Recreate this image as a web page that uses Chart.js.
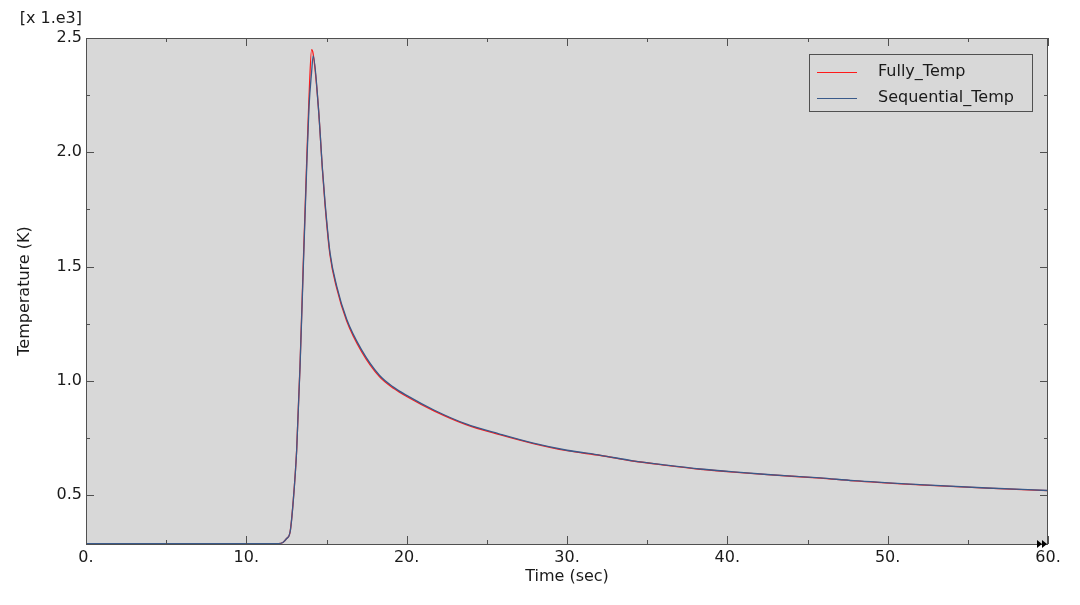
<!DOCTYPE html>
<html>
<head>
<meta charset="utf-8">
<script src="https://cdn.jsdelivr.net/npm/chart.js@4.4.0/dist/chart.umd.min.js"></script>
<style>
  html, body { margin: 0; padding: 0; background: #ffffff; }
  canvas { display: block; }
</style>
</head>
<body>
<canvas id="tempChart" width="1080" height="605"></canvas>
<script>
// time (sec) and temperatures in units of 1e3 K
const timeSec = [0, 6, 12.0, 12.3, 12.5, 12.73, 12.93, 13.14, 13.35, 13.55, 13.76, 13.91, 14.07, 14.17, 14.49, 14.75, 14.91, 15.22, 15.64, 16.26, 17.19, 18.3, 19.2, 20.0, 21.7, 23.7, 25.8, 27.9, 30.0, 32.1, 34.1, 36.2, 38.3, 40.4, 42.5, 45.8, 47.9, 52.0, 56.2, 60];
const fullyTemp = [0.288, 0.288, 0.289, 0.295, 0.31, 0.34, 0.48, 0.70, 1.07, 1.51, 1.95, 2.24, 2.449, 2.43, 2.20, 1.92, 1.77, 1.55, 1.405, 1.262, 1.128, 1.019, 0.967, 0.932, 0.869, 0.809, 0.765, 0.726, 0.695, 0.674, 0.650, 0.631, 0.614, 0.601, 0.590, 0.575, 0.563, 0.546, 0.531, 0.520];
const sequentialTemp = [0.288, 0.288, 0.289, 0.295, 0.31, 0.34, 0.478, 0.697, 1.063, 1.49, 1.925, 2.20, 2.35, 2.422, 2.20, 1.925, 1.78, 1.56, 1.414, 1.27, 1.136, 1.025, 0.972, 0.937, 0.873, 0.812, 0.768, 0.728, 0.697, 0.675, 0.651, 0.632, 0.615, 0.602, 0.591, 0.576, 0.564, 0.547, 0.532, 0.521];
const yMajorTicks = [0.5, 1.0, 1.5, 2.0, 2.5];
const yMinorTicks = [0.75, 1.25, 1.75, 2.25];
const xMajorTicks = [0, 10, 20, 30, 40, 50, 60];
const xMinorTicks = [5, 15, 25, 35, 45, 55];

const FONT = 'DejaVu Sans, Verdana, sans-serif';
const TEXT = '#1a1a1a';
const FRAME = '#505050';

function toPoints(ys) {
    return timeSec.map((t, i) => ({ x: t, y: ys[i] }));
}

const framePlugin = {
    id: 'frame',
    beforeDraw(chart) {
        const { ctx, chartArea: a } = chart;
        ctx.save();
        ctx.fillStyle = '#d8d8d8';
        ctx.fillRect(a.left, a.top, a.right - a.left, a.bottom - a.top);
        ctx.restore();
    },
    afterDraw(chart) {
        const { ctx, chartArea: a, scales } = chart;
        const xs = scales.x, ys = scales.y;
        ctx.save();
        ctx.strokeStyle = FRAME;
        ctx.lineWidth = 1;
        ctx.strokeRect(a.left + 0.5, a.top + 0.5, a.right - a.left - 1, a.bottom - a.top);

        // inward ticks on all four sides
        ctx.beginPath();
        const yTick = (v, len) => {
            const py = Math.round(ys.getPixelForValue(v)) + 0.5;
            ctx.moveTo(a.left, py); ctx.lineTo(a.left + len, py);
            ctx.moveTo(a.right, py); ctx.lineTo(a.right - len, py);
        };
        const xTick = (v, len) => {
            const px = Math.round(xs.getPixelForValue(v)) + 0.5;
            ctx.moveTo(px, a.bottom); ctx.lineTo(px, a.bottom - len);
            ctx.moveTo(px, a.top); ctx.lineTo(px, a.top + len);
        };
        yMajorTicks.forEach(v => yTick(v, 8));
        yMinorTicks.forEach(v => yTick(v, 4));
        xMajorTicks.forEach(v => xTick(v, 8));
        xMinorTicks.forEach(v => xTick(v, 4));
        ctx.stroke();

        // double arrow at the end of the x axis
        ctx.fillStyle = '#000000';
        const by = a.bottom;
        [a.right - 11, a.right - 6].forEach(x0 => {
            ctx.beginPath();
            ctx.moveTo(x0, by - 4);
            ctx.lineTo(x0 + 5, by);
            ctx.lineTo(x0, by + 4);
            ctx.closePath();
            ctx.fill();
        });

        // texts
        ctx.fillStyle = TEXT;
        ctx.font = '16px ' + FONT;
        ctx.textBaseline = 'middle';
        ctx.textAlign = 'right';
        ctx.fillText('[x 1.e3]', 82, 19);
        ctx.textAlign = 'center';
        ctx.fillText('Time (sec)', (a.left + a.right) / 2, 577);
        ctx.save();
        ctx.translate(25, 291);
        ctx.rotate(-Math.PI / 2);
        ctx.fillText('Temperature (K)', 0, 0);
        ctx.restore();

        // legend
        const lx = 809, ly = 54, lw = 223, lh = 57;
        ctx.fillStyle = '#d8d8d8';
        ctx.fillRect(lx, ly, lw, lh);
        ctx.strokeStyle = FRAME;
        ctx.strokeRect(lx + 0.5, ly + 0.5, lw, lh);
        ctx.textAlign = 'left';
        chart.data.datasets.forEach((ds, i) => {
            const yy = 72 + i * 26;
            ctx.strokeStyle = ds.borderColor;
            ctx.lineWidth = 1.2;
            ctx.beginPath();
            ctx.moveTo(817, yy + 0.5);
            ctx.lineTo(857, yy + 0.5);
            ctx.stroke();
            ctx.fillStyle = TEXT;
            ctx.fillText(ds.label, 878, yy);
        });
        ctx.restore();
    }
};

new Chart(document.getElementById('tempChart').getContext('2d'), {
    type: 'line',
    data: {
        datasets: [
            {
                label: 'Fully_Temp',
                data: toPoints(fullyTemp),
                borderColor: '#ff1a1a',
                borderWidth: 1.3,
                pointRadius: 0,
                fill: false,
                order: 1,
                cubicInterpolationMode: 'monotone'
            },
            {
                label: 'Sequential_Temp',
                data: toPoints(sequentialTemp),
                borderColor: '#3a5a8a',
                borderWidth: 1.3,
                pointRadius: 0,
                fill: false,
                order: 0,
                cubicInterpolationMode: 'monotone'
            }
        ]
    },
    options: {
        responsive: false,
        animation: false,
        layout: { padding: { top: 38, right: 32, left: 0, bottom: 0 } },
        plugins: {
            legend: { display: false },
            tooltip: { enabled: false }
        },
        scales: {
            x: {
                type: 'linear',
                min: 0,
                max: 60,
                afterFit: s => { s.height = 61; },
                afterBuildTicks: s => { s.ticks = xMajorTicks.map(v => ({ value: v })); },
                grid: { display: false, drawTicks: false },
                border: { display: false },
                ticks: {
                    padding: 4,
                    autoSkip: false,
                    maxRotation: 0,
                    color: TEXT,
                    font: { family: FONT, size: 16 },
                    callback: v => v + '.'
                }
            },
            y: {
                type: 'linear',
                min: 0.287,
                max: 2.5,
                afterFit: s => { s.width = 86; },
                afterBuildTicks: s => { s.ticks = yMajorTicks.map(v => ({ value: v })); },
                grid: { display: false, drawTicks: false },
                border: { display: false },
                ticks: {
                    padding: 4,
                    color: TEXT,
                    font: { family: FONT, size: 16 },
                    callback: v => Number(v).toFixed(1)
                }
            }
        }
    },
    plugins: [framePlugin]
});
</script>
</body>
</html>
